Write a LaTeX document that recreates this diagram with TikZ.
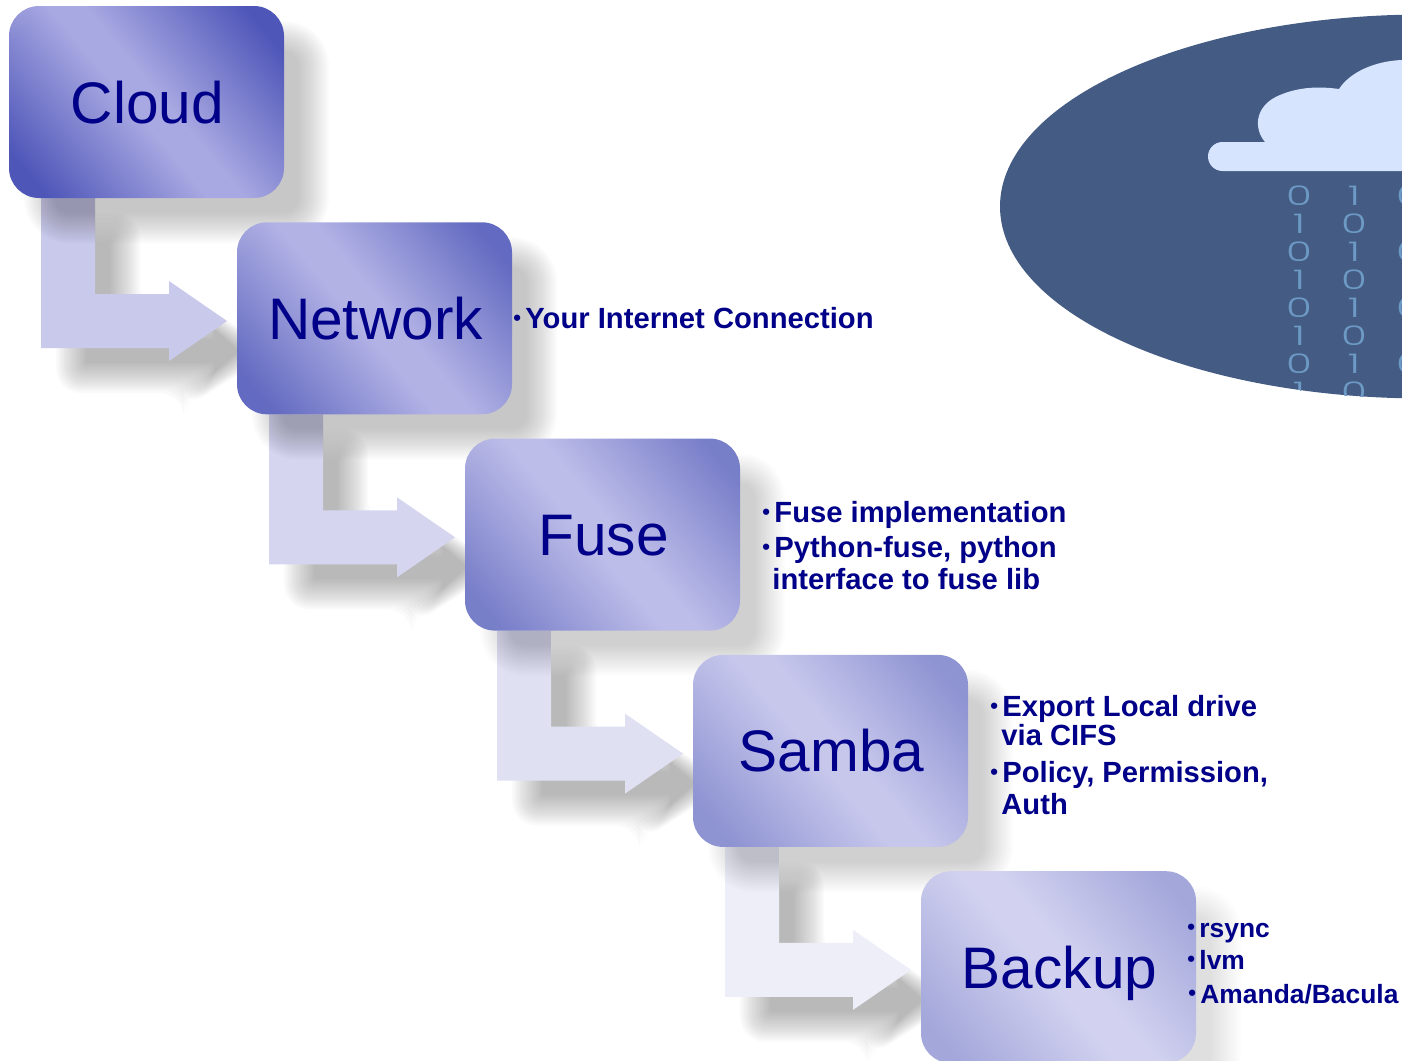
\documentclass[tikz,border=0pt]{standalone}
\usepackage{fontspec}
\usetikzlibrary{fadings}
\setmainfont{Liberation Sans}
\newfontfamily\digitfont[UprightFont=* Light,FakeStretch=1.55]{Poppins}
\definecolor{boxdark}{HTML}{4E56B8}
\definecolor{boxlight}{HTML}{A8A8E2}
\definecolor{navytext}{HTML}{000088}
\definecolor{skyblue}{HTML}{445C84}
\definecolor{cloudfill}{HTML}{D6E4FD}
\definecolor{digitblue}{HTML}{6C9AC4}
\newcommand\boxshadow[1]{\foreach \d in {-15,-13,...,15}{\pgfmathsetmacro\rr{(30-\d)*.5}\fill[shadowlayer=#1,rounded corners=\rr pt] (39+\d,36+\d) rectangle (314-\d,228-\d);}}
\newcommand\arrowshadow{\foreach \d in {-15,-13,...,15}{\pgfmathsetmacro\rr{(16-\d)*.4}\fill[shadowlayer=.0178,rounded corners=\rr pt] (71+\d,228+\d) -- (125-\d,228+\d) -- (125-\d,324+\d) -- (199+\d,324+\d) -- (199+\d,311+1.2*\d) -- (257-1.2*\d,351) -- (199+\d,391-1.2*\d) -- (199+\d,378-\d) -- (71+\d,378-\d) -- cycle;}}
\newcommand\bul{\llap{{\fontsize{11}{11}\selectfont\raisebox{1.2pt}{•}}\kern 2.2pt}}
% one diagonal shading per step, fading towards white
\newcommand\declarestep[1]{%
  \colorlet{dk}{boxdark!#1!white}\colorlet{lt}{boxlight!#1!white}%
  \pgfdeclareverticalshading{stepshade#1}{100bp}{color(0bp)=(dk); color(21bp)=(dk); color(47bp)=(lt); color(53bp)=(lt); color(79bp)=(dk); color(100bp)=(dk)}}
\declarestep{100}\declarestep{88}\declarestep{76}\declarestep{64}\declarestep{52}
\tikzfading[name=tlglow,inner color=transparent!72,outer color=transparent!100]
\tikzset{
  shadowlayer/.style={black,opacity=#1},
  stepbox/.style={rectangle,rounded corners=15pt,minimum width=137.5pt,minimum height=96pt,inner sep=0pt,text=navytext,font=\fontsize{29.3}{35}\selectfont,text height=21pt,text depth=0pt},
  listline/.style={anchor=base west,inner sep=0pt,text=navytext,font=\fontsize{14.6}{17}\selectfont\bfseries},
  smalllist/.style={listline,font=\fontsize{13.2}{16}\selectfont\bfseries},
  digit/.style={text=digitblue,font=\fontsize{13.5}{14}\digitfont,inner sep=0pt},
}
\begin{document}
\begin{tikzpicture}[x=.5pt,y=-.5pt]
\clip (0,0) rectangle (1402,1060);
% sky picture
\begin{scope}
\clip (1000,0) rectangle (1402,398);
\fill[skyblue] (1425,206.5) ellipse [x radius=425,y radius=192];
\fill[cloudfill] (1402,171) -- (1222.5,171) arc[start angle=90,end angle=270,radius=14.5] -- (1265,142) .. controls (1253,128) and (1255,105) .. (1280,95) .. controls (1292,90) and (1310,85) .. (1339,89) .. controls (1350,72) and (1375,61) .. (1402,60) -- cycle;
\clip (1425,206.5) ellipse [x radius=425,y radius=192];
\foreach \r/\a/\b in {0/0/1,1/1/0,2/0/1,3/1/0,4/0/1,5/1/0,6/0/1,7/1/0}{
  \node[digit] (da\r) at (1299,196+28*\r) {\a};
  \node[digit] (db\r) at (1354,196+28*\r) {\b};
  \node[digit] (dc\r) at (1409,196+28*\r) {\a};
}
\end{scope}
% steps
\foreach \i/\nm/\lab/\pc/\ac/\sh in {0/cloud/Cloud/100/C9C9EB/.0162,1/network/Network/88/D5D5EF/.0139,2/fuse/Fuse/76/E0E0F3/.0123,3/samba/Samba/64/EDEEF8/.0101,4/backup/Backup/52/EDEEF8/.0087}{
  \begin{scope}[shift={(228*\i,216.3*\i)}]
    \definecolor{arrowfill}{HTML}{\ac}
    \ifnum\i<4
      \arrowshadow
      \fill[arrowfill] (41,198) -- (95,198) -- (95,294) -- (169,294) -- (169,281) -- (227,321) -- (169,361) -- (169,348) -- (41,348) -- cycle;
    \fi
    \boxshadow{\sh}
    \node[stepbox,shading=stepshade\pc,shading angle=-50] (\nm) at (146.5,102) {};
    \fill[white,rounded corners=15pt,path fading=tlglow,fading transform={xshift=-44pt,yshift=30pt}] (\nm.south west) rectangle (\nm.north east);
    \node[stepbox,text=navytext] (\nm text) at (\nm.center) {\hspace{1pt}\lab};
  \end{scope}
}
% lists
\node[listline] (l1) at (525,328) {\bul Your Internet Connection};
\node[listline] (l2) at (774,522) {\bul Fuse implementation};
\node[listline] (l3) at (774,557) {\bul Python-fuse, python};
\node[listline] (l4) at (772,589) {interface to fuse lib};
\node[listline] (l5) at (1002,716) {\bul Export Local drive};
\node[listline] (l6) at (1001,745) {via CIFS};
\node[listline] (l7) at (1002,782) {\bul Policy, Permission,};
\node[listline] (l8) at (1001,814) {Auth};
\node[smalllist] (l9) at (1199,937) {\bul rsync};
\node[smalllist] (l10) at (1199,969) {\bul lvm};
\node[smalllist] (l11) at (1200,1003) {\bul Amanda/Bacula};
\end{tikzpicture}
\end{document}
